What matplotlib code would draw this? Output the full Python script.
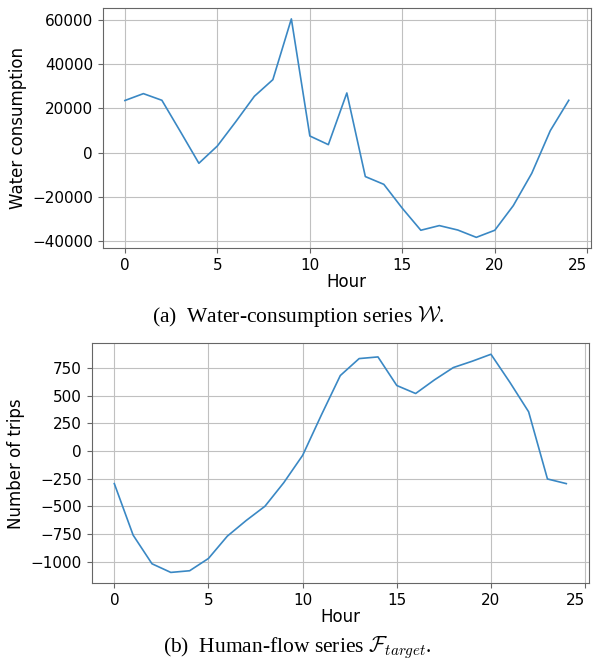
import matplotlib
matplotlib.use("Agg")
import matplotlib.pyplot as plt

plt.rcParams['mathtext.fontset'] = 'cm'

# hours of the day
hours = list(range(25))

# (a) water consumption per hour
water = [23500, 26600, 23600, 9500, -4800, 3000, 14000, 25400, 32900, 60300,
         7500, 3600, 26900, -10800, -14300, -25100, -35000, -32900, -34900, -38200,
         -35000, -23900, -9300, 9900, 23600]

# (b) human flow (number of trips) per hour
trips = [-294, -759, -1017, -1095, -1080, -969, -768, -627, -498, -285,
         -39, 327, 681, 834, 849, 591, 519, 642, 753, 810,
         873, 621, 354, -252, -294]

captions = [r'(a)  Water-consumption series $\mathcal{W}$.',
            r'(b)  Human-flow series $\mathcal{F}_{target}$.']
ylabels = ['Water consumption', 'Number of trips']

fig = plt.figure(figsize=(5.94, 6.64), dpi=100)
ax1 = fig.add_axes([0.1729, 0.6261, 0.822, 0.3619])
ax2 = fig.add_axes([0.1544, 0.1215, 0.837, 0.3614])

for ax, y, lab in [(ax1, water, ylabels[0]), (ax2, trips, ylabels[1])]:
    ax.plot(hours, y, color='#3a88c4', lw=1.2)
    ax.grid(True, color='#c0c0c0', lw=0.8)
    ax.set_xlabel('Hour', fontsize=12, labelpad=0)
    ax.set_ylabel(lab, fontsize=12)
    ax.tick_params(labelsize=11, color='#666666')
    for s in ax.spines.values():
        s.set_color('#666666')
    ax.set_xticks([0, 5, 10, 15, 20, 25])
    # last label sits against the right edge, as in the original
    ax.get_xticklabels()[-1].set_ha('right')

ax1.set_yticks([-40000, -20000, 0, 20000, 40000, 60000])
ax2.set_yticks([-1000, -750, -500, -250, 0, 250, 500, 750])

fig.text(0.502, 1 - 317 / 664, captions[0], ha='center', va='center',
         fontsize=15.5, family='Liberation Serif')
fig.text(0.5, 1 - 648 / 664, captions[1], ha='center', va='center',
         fontsize=15.5, family='Liberation Serif')

fig.savefig('out.png', dpi=100)
